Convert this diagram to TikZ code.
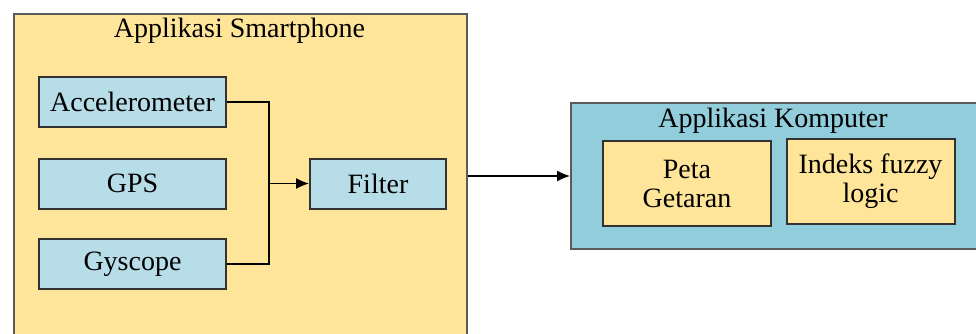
\documentclass[tikz,border=0pt]{standalone}
\usepackage{fontspec}
\setmainfont{Liberation Serif}
\usepackage{tikz}
\usetikzlibrary{calc, arrows.meta, positioning}
\usepackage{xcolor}

\definecolor{hpyellow}{RGB}{255,229,153}
\definecolor{sensorblue}{RGB}{183,221,232}
\definecolor{pcblue}{RGB}{146,205,220}
\definecolor{edgegray}{RGB}{50,50,50}

\tikzset{
  bigfont/.style={font=\fontsize{28}{29}\selectfont},
  sensorbox/.style={draw=edgegray, line width=2pt, fill=sensorblue, inner sep=0pt,
    minimum height=50pt, bigfont},
  pcbox/.style={draw=edgegray, line width=2pt, fill=hpyellow, inner sep=0pt,
    minimum width=168pt, minimum height=85pt, align=center, bigfont},
  wire/.style={line width=1.3pt, black}
}

\begin{document}
\begin{tikzpicture}[x=1pt, y=-1pt]
    \useasboundingbox (0,0) rectangle (976,333);
    \clip (0,0) rectangle (976,333);

    % Applikasi Smartphone
    \node[draw=edgegray!80, line width=1.6pt, fill=hpyellow, minimum width=453pt,
      minimum height=360pt, anchor=north west] (hp) at (13,13) {};
    \node[bigfont, anchor=base] (hptitle) at (239.5,37) {Applikasi Smartphone};

    \node[sensorbox, minimum width=187pt] (acc) at (132.5,102) {Accelerometer};
    \node[sensorbox, minimum width=187pt] (gps) at (132.5,183.5) {GPS};
    \node[sensorbox, minimum width=187pt] (gyro) at (132.5,264) {Gyscope};
    \node[sensorbox, minimum width=136pt] (filter) at (378,183.5) {Filter};

    \coordinate (junc) at (269,183.5);
    \draw[wire] (acc.east) -| (junc);
    \draw[wire] (gyro.east) -| (junc);
    \draw[wire, -{Latex[length=13pt, width=11pt]}] (junc) -- (filter.west);

    % Applikasi Komputer
    \node[draw=edgegray!80, line width=1.6pt, fill=pcblue, minimum width=430pt,
      minimum height=146pt, anchor=west] (pc) at (570,176) {};
    \node[bigfont, anchor=base] (pctitle) at (773,127) {Applikasi Komputer};
    \node[pcbox] (peta) at (687,183.5) {Peta\\Getaran};
    \node[pcbox] (indeks) at (870.5,181.5) {Indeks fuzzy\\logic};

    \draw[wire, -{Latex[length=13pt, width=11pt]}] (pc.west -| hp.east) -- (pc.west);
\end{tikzpicture}
\end{document}
